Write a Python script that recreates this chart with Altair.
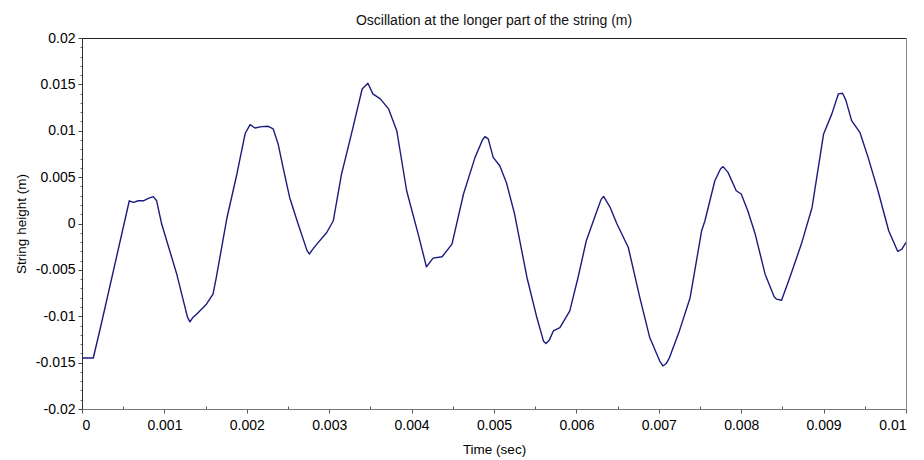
import altair as alt
import pandas as pd

# Time (sec) and string height (m)
time_s = [0.0, 0.000137, 0.00023, 0.000574, 0.000623, 0.000684, 0.000744, 0.000805,
          0.000865, 0.000906, 0.000967, 0.00115, 0.00128, 0.00131, 0.00134, 0.00139,
          0.00151, 0.00159, 0.00163, 0.00176, 0.00188, 0.00198, 0.00204, 0.00210,
          0.00218, 0.00226, 0.00232, 0.00238, 0.00244, 0.00252, 0.00261, 0.00273,
          0.00276, 0.00279, 0.00285, 0.00297, 0.00305, 0.00315, 0.00327, 0.00340,
          0.00347, 0.00353, 0.00362, 0.00372, 0.00382, 0.00394, 0.00408, 0.00418,
          0.00426, 0.00437, 0.00449, 0.00463, 0.00477, 0.00486, 0.00489, 0.00493,
          0.00499, 0.00507, 0.00515, 0.00525, 0.00540, 0.00552, 0.00560, 0.00563,
          0.00567, 0.00572, 0.00580, 0.00592, 0.00602, 0.00612, 0.00625, 0.00630,
          0.00633, 0.00641, 0.00649, 0.00663, 0.00677, 0.00689, 0.00701, 0.00705,
          0.00709, 0.00713, 0.00725, 0.00738, 0.00752, 0.00756, 0.00762, 0.00768,
          0.00775, 0.00778, 0.00784, 0.00794, 0.00800, 0.00808, 0.00817, 0.00829,
          0.00840, 0.00843, 0.00849, 0.00859, 0.00873, 0.00886, 0.00900, 0.00910,
          0.00918, 0.00923, 0.00927, 0.00934, 0.00944, 0.00954, 0.00966, 0.00979,
          0.00990, 0.00995, 0.01000]
height_m = [-0.0145, -0.0145, -0.0110, 0.00245, 0.00227, 0.00245, 0.00245, 0.0027,
            0.0029, 0.00245, -0.00006, -0.00546, -0.0101, -0.0106, -0.0102, -0.00978,
            -0.0087, -0.00762, -0.00582, 0.00065, 0.00534, 0.0097, 0.01066, 0.0103,
            0.01045, 0.01048, 0.0102, 0.00858, 0.00605, 0.00281, 0.0003, -0.0029,
            -0.0033, -0.0029, -0.00222, -0.00097, 0.0003, 0.00534, 0.00966, 0.0145,
            0.01512, 0.01398, 0.01344, 0.01236, 0.01001, 0.00353, -0.00114, -0.00467,
            -0.00373, -0.00359, -0.00222, 0.00318, 0.00713, 0.0090, 0.00937, 0.00912,
            0.00713, 0.00623, 0.00443, 0.00102, -0.00582, -0.01014, -0.01266, -0.01295,
            -0.0126, -0.01158, -0.01122, -0.00942, -0.00582, -0.00186, 0.00138, 0.0026,
            0.00292, 0.00173, 0.0, -0.00259, -0.008, -0.0123, -0.0148, -0.01536,
            -0.0151, -0.01446, -0.01158, -0.008, -0.00078, 0.0003, 0.00245, 0.00461,
            0.0059, 0.00613, 0.00551, 0.00353, 0.00318, 0.00138, -0.00114, -0.00546,
            -0.0079, -0.00816, -0.00827, -0.00582, -0.00222, 0.00173, 0.00966, 0.01182,
            0.01398, 0.01404, 0.0133, 0.01109, 0.00983, 0.00713, 0.00353, -0.00078,
            -0.00302, -0.00276, -0.00204]

x_ticks = [0, 0.001, 0.002, 0.003, 0.004, 0.005, 0.006, 0.007, 0.008, 0.009, 0.01]
y_ticks = [-0.02, -0.015, -0.01, -0.005, 0, 0.005, 0.01, 0.015, 0.02]
x_minor = [round(v + 0.0005, 4) for v in x_ticks[:-1]]
y_minor = [round(-0.02 + i * 0.001, 3) for i in range(41) if i % 5 != 0]

df = pd.DataFrame({"t": time_s, "v": height_m})

FONT = "Liberation Sans"
xs = alt.Scale(domain=[0, 0.01], nice=False, zero=False)
ys = alt.Scale(domain=[-0.02, 0.02], nice=False, zero=False)

base = alt.Chart(df)

line = base.mark_line(color="#1b1b7d", strokeWidth=1.4, clip=True,
                      strokeJoin="round").encode(
    x=alt.X("t:Q", scale=xs, axis=alt.Axis(
        orient="bottom", values=x_ticks, title="Time (sec)", grid=False,
        labelExpr="'' + datum.value", tickSize=4, tickColor="#555",
        domainColor="#777", labelPadding=5, titlePadding=10,
        labelFontSize=14, titleFontSize=13.5, titleFontWeight="normal")),
    y=alt.Y("v:Q", scale=ys, axis=alt.Axis(
        orient="left", values=y_ticks, title="String height (m)", grid=False,
        labelExpr="'' + datum.value", tickSize=4, tickColor="#444",
        domainColor="#333", labelPadding=3, titlePadding=7,
        labelFontSize=14, titleFontSize=13.5, titleFontWeight="normal")),
)

minor = base.mark_line(opacity=0).encode(
    x=alt.X("t:Q", scale=xs, axis=alt.Axis(
        orient="bottom", values=x_minor, labels=False, domain=False, grid=False,
        tickSize=3, offset=-3, tickColor="#555", title=None)),
    y=alt.Y("v:Q", scale=ys, axis=alt.Axis(
        orient="left", values=y_minor, labels=False, domain=False, grid=False,
        tickSize=2, tickColor="#666", title=None)),
)

frame = base.mark_line(opacity=0).encode(
    x=alt.X("t:Q", scale=xs, axis=alt.Axis(
        orient="top", labels=False, ticks=False, grid=False,
        domainColor="#222", title=None)),
    y=alt.Y("v:Q", scale=ys, axis=alt.Axis(
        orient="right", labels=False, ticks=False, grid=False,
        domainColor="#888", title=None)),
)

chart = alt.layer(minor, frame, line).resolve_axis(
    x="independent", y="independent"
).properties(
    width=824,
    height=371,
    title=alt.TitleParams(
        "Oscillation at the longer part of the string (m)",
        font=FONT, fontSize=14, fontWeight="normal", color="#111",
        anchor="middle", offset=3,
    ),
    autosize=alt.AutoSizeParams(type="none"),
    padding={"left": 74, "top": 30, "right": 10, "bottom": 50},
).configure_view(
    stroke=None
).configure_axis(
    labelFont=FONT, titleFont=FONT, labelColor="#111", titleColor="#111",
    domainWidth=1,
).configure(background="white")

chart.save("out.html", embed_options={"renderer": "svg", "actions": False})
